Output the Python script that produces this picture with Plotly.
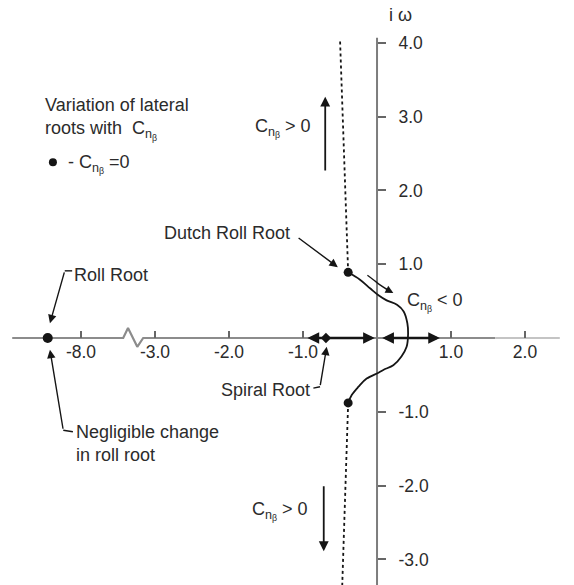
import plotly.graph_objects as go

# ---------------- data ----------------
x_tick_values = [-8.0, -3.0, -2.0, -1.0, 1.0, 2.0]
x_tick_labels = ["-8.0", "-3.0", "-2.0", "-1.0", "1.0", "2.0"]
y_tick_values = [4.0, 3.0, 2.0, 1.0, -1.0, -2.0, -3.0]
y_tick_labels = ["4.0", "3.0", "2.0", "1.0", "-1.0", "-2.0", "-3.0"]

roll_root_sigma = [-8.45]
roll_root_omega = [0.0]
spiral_root_sigma = [-0.69]
spiral_root_omega = [0.0]
dutch_roll_sigma = [-0.39, -0.39]
dutch_roll_omega = [0.89, -0.88]

# Dutch roll root locus for C_n_beta < 0
locus_sigma = [-0.39, -0.23, -0.09, 0.02, 0.13, 0.27, 0.36, 0.41, 0.42, 0.40,
               0.33, 0.22, 0.09, 0.02, -0.14, -0.25, -0.34, -0.39]
locus_omega = [0.89, 0.79, 0.67, 0.58, 0.51, 0.45, 0.36, 0.20, 0.06, -0.12,
               -0.25, -0.37, -0.43, -0.47, -0.55, -0.66, -0.77, -0.88]

# Dutch roll root locus for C_n_beta > 0 (dotted)
upper_branch_sigma = [-0.39, -0.50]
upper_branch_omega = [0.89, 4.05]
lower_branch_sigma = [-0.39, -0.47]
lower_branch_omega = [-0.88, -3.35]

# direction arc beside "C_n_beta < 0"
arc_sigma = [-0.13, -0.05, 0.04, 0.14]
arc_omega = [0.85, 0.79, 0.72, 0.655]

# ---------------- layout helpers ----------------
W, H = 574, 585
X_RANGE = [-5.095, 2.662]
Y_RANGE = [-3.347, 4.58]
INK = "#151515"
TXT = "#2b2b2b"
FONT = "Liberation Sans, Arial, Helvetica, sans-serif"
FS = 18
TFS = 17.5


def bx(v):
    """broken real axis: values beyond the break are shifted right by 4 units"""
    return v + 4.0 if v < -3.5 else v


fig = go.Figure()

# axes drawn as lines
axis_grey = "#8c8c8c"
fig.add_trace(go.Scatter(x=[-4.93, -3.43, -3.365, -3.24, -3.16, 1.6],
                         y=[0, 0, 0.135, -0.12, 0, 0], mode="lines",
                         line=dict(color=axis_grey, width=2.2), hoverinfo="skip"))
fig.add_trace(go.Scatter(x=[1.6, 2.47], y=[0, 0], mode="lines",
                         line=dict(color="#c4c4c4", width=2.2), hoverinfo="skip"))
fig.add_trace(go.Scatter(x=[0, 0], y=[4.07, Y_RANGE[0]], mode="lines",
                         line=dict(color="#7d7d7d", width=2), hoverinfo="skip"))

# dotted branches
for sx, sy in [(upper_branch_sigma, upper_branch_omega), (lower_branch_sigma, lower_branch_omega)]:
    fig.add_trace(go.Scatter(x=sx, y=sy, mode="lines",
                             line=dict(color=INK, width=1.8, dash="dot"), hoverinfo="skip"))

# solid locus
fig.add_trace(go.Scatter(x=locus_sigma, y=locus_omega, mode="lines",
                         line=dict(color=INK, width=1.8, shape="spline", smoothing=1.0),
                         hoverinfo="skip"))
# small arc
fig.add_trace(go.Scatter(x=arc_sigma, y=arc_omega, mode="lines",
                         line=dict(color=INK, width=1.3, shape="spline"), hoverinfo="skip"))

# roots
fig.add_trace(go.Scatter(x=[bx(v) for v in roll_root_sigma], y=roll_root_omega, mode="markers",
                         marker=dict(color=INK, size=10), hoverinfo="skip"))
fig.add_trace(go.Scatter(x=spiral_root_sigma, y=spiral_root_omega, mode="markers",
                         marker=dict(color=INK, size=8, symbol="diamond"), hoverinfo="skip"))
fig.add_trace(go.Scatter(x=dutch_roll_sigma, y=dutch_roll_omega, mode="markers",
                         marker=dict(color=INK, size=9), hoverinfo="skip"))
# legend dot
fig.add_trace(go.Scatter(x=[-4.38], y=[2.38], mode="markers",
                         marker=dict(color=INK, size=8), hoverinfo="skip"))


def arrow(x0, y0, x1, y1, width=1.4, head=2, size=1.2, both=False):
    fig.add_annotation(x=x1, y=y1, ax=x0, ay=y0, xref="x", yref="y", axref="x", ayref="y",
                       text="", showarrow=True, arrowhead=head, arrowsize=size,
                       arrowwidth=width, arrowcolor=INK,
                       arrowside="end+start" if both else "end",
                       startarrowhead=head, startarrowsize=size)


def line(xs, ys, width=1.4):
    fig.add_trace(go.Scatter(x=xs, y=ys, mode="lines", line=dict(color=INK, width=width),
                             hoverinfo="skip"))


# real-axis movement arrows
arrow(-0.96, 0, -0.03, 0, width=2.6, size=0.9, both=True)
arrow(0.05, 0, 0.85, 0, width=2.6, size=0.9, both=True)
# arc arrow head
arrow(0.10, 0.675, 0.22, 0.61, width=1.3, size=1.2)

# C_n_beta > 0 arrows
arrow(-0.70, 2.25, -0.70, 3.27, width=1.8, size=1.1)
arrow(-0.72, -1.99, -0.72, -2.89, width=1.8, size=1.1)

# leaders
arrow(-1.08, 1.37, -0.53, 0.96, width=1.4, size=1.2)              # Dutch roll
line([-4.12, -4.22], [0.91, 0.91])
arrow(-4.22, 0.91, -4.42, 0.20, width=1.4, size=1.2)               # roll root
line([-4.11, -4.24], [-1.27, -1.25])
arrow(-4.24, -1.25, -4.42, -0.16, width=1.4, size=1.2)             # negligible change
line([-0.86, -0.77], [-0.68, -0.66])
arrow(-0.77, -0.66, -0.68, -0.12, width=1.4, size=1.2)             # spiral root

CNB = "C<sub>n<sub>β</sub></sub>"


def label(x, y, text, anchor="left", size=FS):
    fig.add_annotation(x=x, y=y, xref="x", yref="y", text=text, showarrow=False,
                       xanchor=anchor, yanchor="middle", align="left",
                       font=dict(family=FONT, size=size, color=TXT))


label(-4.52, 2.97, "Variation of lateral<br>roots with  " + CNB)
label(-4.20, 2.36, "- " + CNB + " =0")
label(-1.68, 2.84, CNB + " &gt; 0")
label(-2.90, 1.42, "Dutch Roll Root")
label(-4.12, 0.85, "Roll Root")
label(0.38, 0.49, CNB + " &lt; 0")
label(-2.13, -0.70, "Spiral Root")
label(-4.09, -1.43, "Negligible change<br>in roll root")
label(-1.72, -2.35, CNB + " &gt; 0")
label(0.32, 4.38, "i ω", anchor="center")

x_pos = (0 - Y_RANGE[0]) / (Y_RANGE[1] - Y_RANGE[0])
y_pos = (0 - X_RANGE[0]) / (X_RANGE[1] - X_RANGE[0])

fig.update_layout(
    width=W, height=H, margin=dict(l=0, r=0, t=0, b=0),
    paper_bgcolor="white", plot_bgcolor="white", showlegend=False,
    xaxis=dict(range=X_RANGE, showgrid=False, zeroline=False, showline=False,
               tickvals=[bx(v) for v in x_tick_values], ticktext=x_tick_labels,
               ticks="inside", ticklen=7, tickwidth=1.5, tickcolor="#666",
               anchor="free", position=x_pos, automargin=False, ticklabelstandoff=2,
               tickfont=dict(family=FONT, size=TFS, color=TXT)),
    yaxis=dict(range=Y_RANGE, showgrid=False, zeroline=False, showline=False,
               tickvals=y_tick_values, ticktext=y_tick_labels,
               ticks="outside", ticklen=8, tickwidth=1.5, tickcolor="#666",
               anchor="free", position=y_pos, side="right", automargin=False,
               ticklabelstandoff=9,
               tickfont=dict(family=FONT, size=TFS, color=TXT)),
)

fig.write_html("out.html")
